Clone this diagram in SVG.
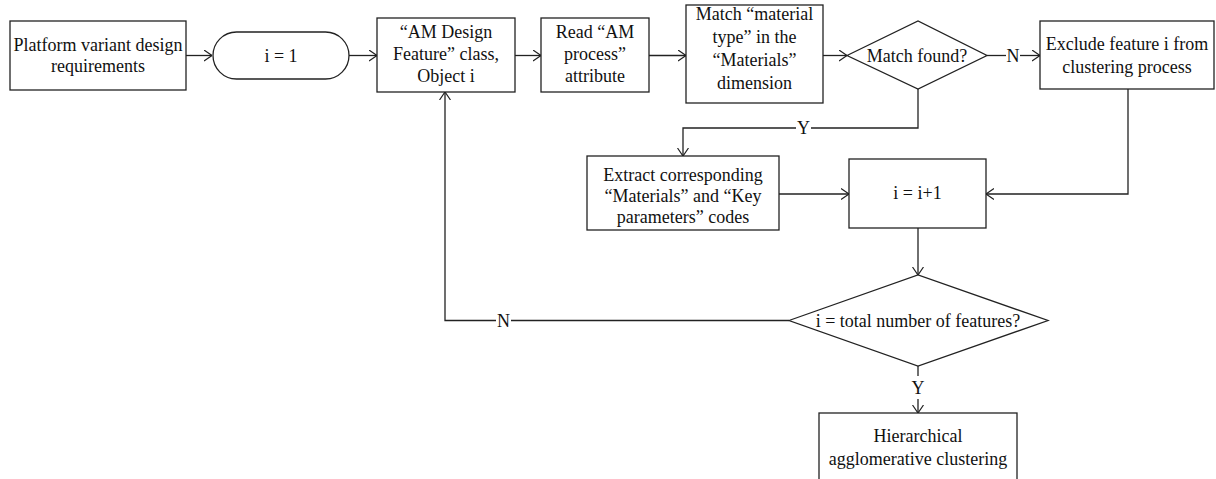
<svg xmlns="http://www.w3.org/2000/svg" width="1216" height="479" viewBox="0 0 1216 479">
  <style>
    .box { fill: #fff; stroke: #222; stroke-width: 1.3; }
    .wire { fill: none; stroke: #222; stroke-width: 1.3; }
    text { font-family: "Liberation Serif", "Times New Roman", serif; font-size: 18px; fill: #111; text-anchor: middle; }
  </style>
  <defs>
    <marker id="arrow" viewBox="0 0 8 12" refX="8" refY="6" markerWidth="8" markerHeight="12" markerUnits="userSpaceOnUse" orient="auto">
      <path d="M0,0.5 L8,6 L0,11.5" fill="none" stroke="#222" stroke-width="1.2"/>
    </marker>
  </defs>
  <rect width="1216" height="479" fill="#fff"/>

  <!-- connectors -->
  <g id="connectors">
    <path class="wire" d="M186,55.5 H212" marker-end="url(#arrow)"/>
    <path class="wire" d="M349,55.5 H377" marker-end="url(#arrow)"/>
    <path class="wire" d="M515,55.5 H541" marker-end="url(#arrow)"/>
    <path class="wire" d="M649,55.5 H686" marker-end="url(#arrow)"/>
    <path class="wire" d="M823,55.5 H847" marker-end="url(#arrow)"/>
    <!-- Match found? -> N -> exclude -->
    <path class="wire" d="M987,55.5 H1006"/>
    <path class="wire" d="M1020,55.5 H1040" marker-end="url(#arrow)"/>
    <text x="1013" y="61.5">N</text>
    <!-- Match found? -> Y -> extract -->
    <path class="wire" d="M918,89 V128 H811"/>
    <path class="wire" d="M796,128 H683 V156" marker-end="url(#arrow)"/>
    <text x="803.5" y="134">Y</text>
    <!-- extract -> i = i+1 -->
    <path class="wire" d="M779,194 H849" marker-end="url(#arrow)"/>
    <!-- exclude -> i = i+1 -->
    <path class="wire" d="M1128,89 V194 H986" marker-end="url(#arrow)"/>
    <!-- i = i+1 -> decision -->
    <path class="wire" d="M918,228 V275" marker-end="url(#arrow)"/>
    <!-- decision -> N -> back to object i -->
    <path class="wire" d="M789,320.5 H511"/>
    <path class="wire" d="M496,320.5 H445 V92" marker-end="url(#arrow)"/>
    <text x="503.5" y="326.5">N</text>
    <!-- decision -> Y -> clustering -->
    <path class="wire" d="M918,366 V376"/>
    <path class="wire" d="M918,399 V413" marker-end="url(#arrow)"/>
    <text x="918" y="394">Y</text>
  </g>

  <g id="requirements">
    <rect class="box" x="10" y="21" width="176" height="69"/>
    <text x="98" y="51">Platform variant design</text>
    <text x="98" y="72">requirements</text>
  </g>

  <g id="init">
    <rect class="box" x="213" y="32" width="136" height="47" rx="23.5" ry="23.5"/>
    <text x="281" y="62">i = 1</text>
  </g>

  <g id="object-i">
    <rect class="box" x="377" y="18" width="138" height="74"/>
    <text x="446" y="38">“AM Design</text>
    <text x="446" y="60">Feature” class,</text>
    <text x="446" y="82">Object i</text>
  </g>

  <g id="read-process">
    <rect class="box" x="541" y="18" width="108" height="74"/>
    <text x="595" y="38">Read “AM</text>
    <text x="595" y="60">process”</text>
    <text x="595" y="82">attribute</text>
  </g>

  <g id="match-material">
    <rect class="box" x="686" y="5" width="137" height="98"/>
    <text x="754.5" y="20">Match “material</text>
    <text x="754.5" y="43">type” in the</text>
    <text x="754.5" y="66">“Materials”</text>
    <text x="754.5" y="89">dimension</text>
  </g>

  <g id="match-found">
    <polygon class="box" points="847,55.5 918,21 987,55.5 918,89"/>
    <text x="917" y="61.5">Match found?</text>
  </g>

  <g id="exclude">
    <rect class="box" x="1040" y="21" width="174" height="68"/>
    <text x="1127" y="50">Exclude feature i from</text>
    <text x="1127" y="73">clustering process</text>
  </g>

  <g id="extract">
    <rect class="box" x="587" y="156" width="192" height="74"/>
    <text x="683" y="181">Extract corresponding</text>
    <text x="683" y="202">“Materials” and “Key</text>
    <text x="683" y="223">parameters” codes</text>
  </g>

  <g id="increment">
    <rect class="box" x="849" y="159" width="137" height="69"/>
    <text x="917.5" y="199">i = i+1</text>
  </g>

  <g id="all-features">
    <polygon class="box" points="789,320.5 918,275 1048,320.5 918,366"/>
    <text x="918" y="327">i = total number of features?</text>
  </g>

  <g id="clustering">
    <rect class="box" x="819" y="413" width="198" height="80"/>
    <text x="918" y="442">Hierarchical</text>
    <text x="918" y="465">agglomerative clustering</text>
  </g>
</svg>
